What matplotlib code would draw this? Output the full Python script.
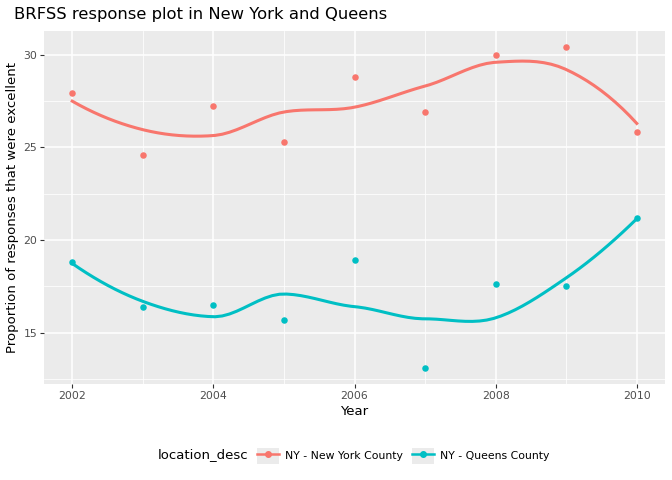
import numpy as np
import matplotlib
matplotlib.use("Agg")
import matplotlib.pyplot as plt
from matplotlib.lines import Line2D
from matplotlib.patches import Patch

# data
years = [2002, 2003, 2004, 2005, 2006, 2007, 2008, 2009, 2010]
new_york = [27.9, 24.6, 27.2, 25.3, 28.8, 26.9, 30.0, 30.4, 25.8]
queens = [18.8, 16.4, 16.5, 15.7, 18.9, 13.1, 17.6, 17.5, 21.2]
locations = ["NY - New York County", "NY - Queens County"]
colors = ["#F8766D", "#00BFC4"]


def local_fit(x, y, x0, span=0.75):
    # local quadratic fit with tricube weights (like R's loess)
    n = len(x)
    q = int(np.floor(n * span))
    d = np.abs(x - x0)
    h = np.sort(d)[q - 1]
    w = np.clip(1 - (d / h) ** 3, 0, None) ** 3
    X = np.column_stack([np.ones(n), x - x0, (x - x0) ** 2])
    sw = np.sqrt(w)
    beta = np.linalg.lstsq(X * sw[:, None], y * sw, rcond=None)[0]
    return beta[0], beta[1]


def split_points(xs, out):
    # kd-tree cuts at the median data point, as loess builds its vertices
    if len(xs) <= 1:
        return
    m = (len(xs) + 1) // 2
    out.append(xs[m - 1])
    split_points(xs[:m], out)
    split_points(xs[m:], out)


def loess(x, y, grid):
    x = np.asarray(x, float)
    y = np.asarray(y, float)
    mu = 0.005 * (x.max() - x.min())
    verts = [x.min() - mu, x.max() + mu]
    split_points(np.sort(x), verts)
    verts = np.unique(verts)
    fits = [local_fit(x, y, v) for v in verts]
    out = []
    for g in grid:
        # cubic hermite between vertices
        i = min(np.searchsorted(verts, g, side="right") - 1, len(verts) - 2)
        v0, v1 = verts[i], verts[i + 1]
        f0, s0 = fits[i]
        f1, s1 = fits[i + 1]
        hh = v1 - v0
        t = (g - v0) / hh
        h00 = 2 * t**3 - 3 * t**2 + 1
        h10 = t**3 - 2 * t**2 + t
        h01 = -2 * t**3 + 3 * t**2
        h11 = t**3 - t**2
        out.append(h00 * f0 + h10 * hh * s0 + h01 * f1 + h11 * hh * s1)
    return np.array(out)


fig = plt.figure(figsize=(6.72, 4.8), dpi=100)
ax = fig.add_axes([44 / 672, 1 - 384 / 480, 621 / 672, 353 / 480])
ax.set_facecolor("#EBEBEB")
for s in ax.spines.values():
    s.set_visible(False)

grid = np.linspace(min(years), max(years), 80)
for vals, col in zip([new_york, queens], colors):
    ax.scatter(years, vals, s=22, color=col, zorder=3, linewidths=0)
    ax.plot(grid, loess(years, vals, grid), color=col, lw=2.2, zorder=3)

ax.set_xlim(2001.6, 2010.4)
ax.set_ylim(12.23, 31.27)
ax.set_xticks([2002, 2004, 2006, 2008, 2010])
ax.set_xticks([2003, 2005, 2007, 2009], minor=True)
ax.set_yticks([15, 20, 25, 30])
ax.set_yticks([12.5, 17.5, 22.5, 27.5], minor=True)
ax.grid(which="major", color="white", lw=1.1)
ax.grid(which="minor", color="white", lw=0.55)
ax.set_axisbelow(True)
ax.tick_params(which="major", length=3, color="#333333", labelsize=7.8,
               labelcolor="#4D4D4D", pad=2)
ax.tick_params(which="minor", length=0)

ax.set_xlabel("Year", fontsize=9.5, labelpad=3)
ax.set_ylabel("Proportion of responses that were excellent", fontsize=9.5, labelpad=3)
fig.text(14 / 672, 1 - 14 / 480, "BRFSS response plot in New York and Queens",
         fontsize=11.8, va="center", ha="left")

# legend: grey key box with line + point
handles = [(Patch(facecolor="#EBEBEB", edgecolor="none"),
            Line2D([], [], color=c, lw=1.8, marker="o", markersize=4))
           for c in colors]
fig.text(158 / 672, 1 - 455 / 480, "location_desc", fontsize=9.5, va="center")
fig.legend(handles, locations, loc="center left", bbox_to_anchor=(252 / 672, 1 - 456 / 480),
           ncol=2, frameon=False, fontsize=7.8, handlelength=2.0, handleheight=2.0,
           handletextpad=0.55, columnspacing=0.85, borderpad=0)

fig.savefig("out.png", dpi=100)
